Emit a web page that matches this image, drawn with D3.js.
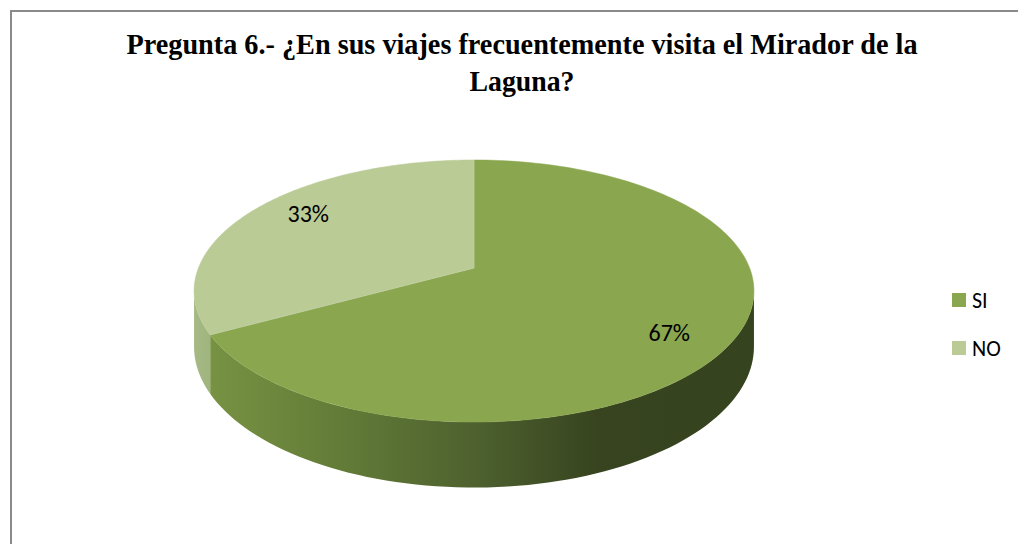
<!DOCTYPE html>
<html>
<head>
<meta charset="utf-8">
<script src="https://cdnjs.cloudflare.com/ajax/libs/d3/7.8.5/d3.min.js"></script>
<style>
  body { margin: 0; background: #fff; }
  svg { display: block; }
</style>
</head>
<body>
<div id="chart"></div>
<script>
// Chart data
var categories = ["SI", "NO"];
var values = [67, 33];
var labels = ["67%", "33%"];
var titleLines = ["Pregunta 6.- \u00bfEn sus  viajes frecuentemente visita el Mirador de la", "Laguna?"];

var topColors = ["#8aa64f", "#bacb96"];
var legendColors = ["#8aa64f", "#bacb96"];

// Size of page and pie
var width = 1018, height = 544;
var pie3d = {cx: 474, cy: 268, rx: 275.6, ry: 127, k: 0.1756, depth: 54};

var svg = d3.select("#chart").append("svg")
  .attr("width", width)
  .attr("height", height);

var defs = svg.append("defs");

/**
 * Projects a point of the pie onto the screen, with a little perspective
 * @param {float} a - angle, clockwise from the top
 * @param {float} r - radius fraction
 * @param {float} z - 0 on the top face, 1 on the bottom face
 */
function project(a, r, z) {
  var wx = Math.sin(a) * r,
      wy = Math.cos(a) * r,
      s = 1 / (1 + pie3d.k * wy);
  return [pie3d.cx + pie3d.rx * wx * s,
          pie3d.cy - pie3d.ry * wy * s + pie3d.depth * z * s];
}

/** Builds a list of points along the rim between two angles */
function rim(a0, a1, z, steps) {
  var pts = [];
  for (var i = 0; i <= steps; i++) {
    pts.push(project(a0 + (a1 - a0) * i / steps, 1, z));
  }
  return pts;
}

var arcs = d3.pie().sort(null).value(function(d) { return d; })(values);

// Part of the rim that faces the viewer
var frontStart = Math.PI / 2 + Math.asin(pie3d.k),
    frontEnd = 3 * Math.PI / 2 - Math.asin(pie3d.k);

// Gradients for the side walls
var sideStops = [
  [{o: 0, c: "#7a9544"}, {o: 0.3, c: "#5f7836"}, {o: 0.5, c: "#4e612f"}, {o: 0.72, c: "#37441f"}, {o: 1, c: "#36431f"}],
  [{o: 0, c: "#a6ba86"}, {o: 0.05, c: "#9cb07b"}, {o: 1, c: "#8da06a"}]
];
sideStops.forEach(function(stops, i) {
  var g = defs.append("linearGradient")
    .attr("id", "side" + i)
    .attr("gradientUnits", "userSpaceOnUse")
    .attr("x1", pie3d.cx - pie3d.rx * 1.02).attr("y1", 0)
    .attr("x2", pie3d.cx + pie3d.rx * 1.02).attr("y2", 0);
  g.selectAll("stop").data(stops).enter().append("stop")
    .attr("offset", function(d) { return d.o; })
    .attr("stop-color", function(d) { return d.c; });
});

var line = d3.line();

// Side walls
arcs.forEach(function(d, i) {
  var a0 = Math.max(d.startAngle, frontStart),
      a1 = Math.min(d.endAngle, frontEnd);
  if (a1 <= a0) return;
  var pts = rim(a0, a1, 0, 80).concat(rim(a1, a0, 1, 80));
  svg.append("path")
    .attr("d", line(pts) + "Z")
    .attr("fill", "url(#side" + i + ")");
});

// Top faces
arcs.forEach(function(d, i) {
  var pts = [project(0, 0, 0)].concat(rim(d.startAngle, d.endAngle, 0, 160));
  svg.append("path")
    .attr("d", line(pts) + "Z")
    .attr("fill", topColors[i])
    .attr("stroke", topColors[i])
    .attr("stroke-width", 0.5);
});

// Thin light edge between slices
arcs.forEach(function(d) {
  var p0 = project(0, 0, 0), p1 = project(d.startAngle, 1, 0);
  svg.append("line")
    .attr("x1", p0[0]).attr("y1", p0[1])
    .attr("x2", p1[0]).attr("y2", p1[1])
    .attr("stroke", "#c9d6ad")
    .attr("stroke-opacity", 0.5)
    .attr("stroke-width", 1);
});

// Data labels
svg.selectAll(".label")
  .data(arcs)
  .enter()
  .append("text")
  .attr("class", "label")
  .attr("x", function(d) { return project((d.startAngle + d.endAngle) / 2 + 0.087, 0.8, 0)[0]; })
  .attr("y", function(d) { return project((d.startAngle + d.endAngle) / 2 + 0.087, 0.8, 0)[1]; })
  .attr("dy", "0.35em")
  .attr("text-anchor", "middle")
  .attr("font-family", "Carlito, Calibri, Lato, sans-serif")
  .attr("font-size", 24)
  .attr("fill", "#000")
  .text(function(d, i) { return labels[i]; });

// Title
svg.selectAll(".title")
  .data(titleLines)
  .enter()
  .append("text")
  .attr("class", "title")
  .attr("x", 522)
  .attr("y", function(d, i) { return 54 + i * 37; })
  .attr("text-anchor", "middle")
  .attr("font-family", "'Liberation Serif', 'Times New Roman', serif")
  .attr("font-weight", "bold")
  .attr("font-size", 29)
  .attr("fill", "#000")
  .attr("textLength", function(d, i) { return i === 0 ? 791 : 105; })
  .attr("lengthAdjust", "spacingAndGlyphs")
  .text(function(d) { return d; });

// Legend
var legend = svg.selectAll(".legend")
  .data(categories)
  .enter()
  .append("g")
  .attr("class", "legend")
  .attr("transform", function(d, i) { return "translate(952," + (293 + i * 48) + ")"; });

legend.append("rect")
  .attr("width", 14)
  .attr("height", 14)
  .attr("fill", function(d, i) { return legendColors[i]; });

legend.append("text")
  .attr("x", 20)
  .attr("y", 15)
  .attr("font-family", "Carlito, Calibri, Lato, sans-serif")
  .attr("font-size", 22)
  .attr("fill", "#000")
  .text(function(d) { return d; });

// Chart border (left and top edges are all that show)
svg.append("path")
  .attr("d", "M11," + height + "V11H" + width)
  .attr("fill", "none")
  .attr("stroke", "#8a8a8a")
  .attr("stroke-width", 2);
</script>
</body>
</html>
